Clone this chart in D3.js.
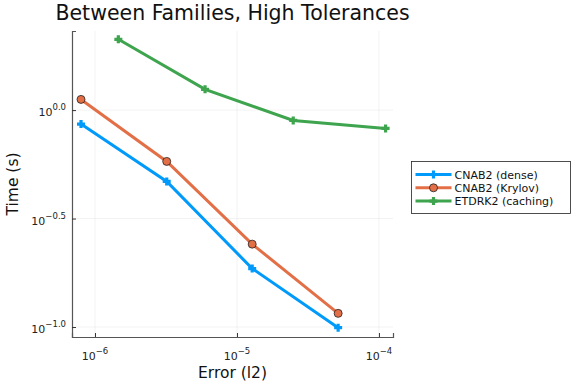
<!DOCTYPE html>
<html lang="en">
<head>
<meta charset="UTF-8">
<title>Between Families, High Tolerances</title>
<script src="https://d3js.org/d3.v7.min.js"></script>
<style>
  body { margin: 0; background: white; }
  svg { display: block; font-family: "DejaVu Sans", sans-serif; }
  .grid line { stroke: #000; stroke-opacity: 0.1; stroke-width: 0.5px; }
</style>
</head>
<body>
<svg id="chart" width="576" height="384"></svg>
<script>
// values
const denseErr = [7.97e-7, 3.2e-6, 1.28e-5, 5.16e-5];
const denseTime = [0.862, 0.469, 0.186, 0.0993];
const krylovErr = [7.97e-7, 3.2e-6, 1.28e-5, 5.16e-5];
const krylovTime = [1.12, 0.580, 0.241, 0.1156];
const etdErr = [1.46e-6, 5.96e-6, 2.49e-5, 1.114e-4];
const etdTime = [2.12, 1.246, 0.896, 0.823];

const xTickExp = ["-6", "-5", "-4"];
const yTickExp = ["0.0", "-0.5", "-1.0"];

const series = [
  {name: "CNAB2 (dense)", color: "#009AFA", marker: "cross", x: denseErr, y: denseTime},
  {name: "CNAB2 (Krylov)", color: "#E36F47", marker: "circle", x: krylovErr, y: krylovTime},
  {name: "ETDRK2 (caching)", color: "#3EA44E", marker: "cross", x: etdErr, y: etdTime}
];

const svg = d3.select("#chart");
const margin = {left: 72, right: 183, top: 31, bottom: 47};
const W = 576 - margin.left - margin.right;
const H = 384 - margin.top - margin.bottom;
const g = svg.append("g").attr("transform", `translate(${margin.left},${margin.top})`);

const x = d3.scaleLog().domain([Math.pow(10, -6.162), Math.pow(10, -3.901)]).range([0, W]);
const y = d3.scaleLog().domain([Math.pow(10, -1.046), Math.pow(10, 0.3646)]).range([H, 0]);

const xTicks = xTickExp.map(e => Math.pow(10, +e));
const yTicks = yTickExp.map(e => Math.pow(10, +e));

// grid
g.append("g").attr("class", "grid")
  .selectAll("line").data(xTicks).enter().append("line")
  .attr("x1", d => x(d)).attr("x2", d => x(d)).attr("y1", 0).attr("y2", H);
g.append("g").attr("class", "grid")
  .selectAll("line").data(yTicks).enter().append("line")
  .attr("y1", d => y(d)).attr("y2", d => y(d)).attr("x1", 0).attr("x2", W);

// axes
const xAxis = g.append("g").attr("transform", `translate(0,${H})`)
  .call(d3.axisBottom(x).tickValues(xTicks).tickSize(-4).tickFormat(""));
const yAxis = g.append("g")
  .call(d3.axisLeft(y).tickValues(yTicks).tickSize(-4).tickFormat(""));
[xAxis, yAxis].forEach(a => {
  a.select(".domain").attr("stroke", "#555").attr("stroke-width", 1.2);
  a.selectAll(".tick line").attr("stroke", "#333");
});

// tick labels with superscripts
g.append("g").selectAll("text").data(xTickExp).enter().append("text")
  .attr("x", d => x(Math.pow(10, +d)))
  .attr("y", H + 23)
  .attr("text-anchor", "middle")
  .attr("font-size", 11)
  .attr("fill", "#222")
  .each(function(d) {
    const t = d3.select(this);
    t.append("tspan").text("10");
    t.append("tspan").attr("dy", -6).attr("font-size", 8.5).text("\u2212" + d.slice(1));
  });

g.append("g").selectAll("text").data(yTickExp).enter().append("text")
  .attr("x", -6)
  .attr("y", d => y(Math.pow(10, +d)) + 6)
  .attr("text-anchor", "end")
  .attr("font-size", 11)
  .attr("fill", "#222")
  .each(function(d) {
    const t = d3.select(this);
    t.append("tspan").text("10");
    t.append("tspan").attr("dy", -6).attr("font-size", 8.5).text(d.replace("-", "\u2212"));
  });

// axis titles
svg.append("text").attr("x", margin.left + W / 2).attr("y", 378)
  .attr("text-anchor", "middle").attr("font-size", 15.5).attr("fill", "#111").text("Error (l2)");
svg.append("text").attr("transform", `translate(18,${margin.top + H / 2}) rotate(-90)`)
  .attr("text-anchor", "middle").attr("font-size", 15.5).attr("fill", "#111").text("Time (s)");
svg.append("text").attr("x", margin.left + W / 2).attr("y", 19.5)
  .attr("text-anchor", "middle").attr("font-size", 20.5).attr("fill", "#111")
  .text("Between Families, High Tolerances");

function drawMarker(sel, s, size) {
  if (s.marker === "circle") {
    sel.append("circle").attr("r", size).attr("fill", s.color)
      .attr("stroke", "#222").attr("stroke-width", 0.8);
  } else {
    sel.append("path").attr("d", `M${-size},0H${size}M0,${-size}V${size}`)
      .attr("stroke", s.color).attr("stroke-width", 3.2);
  }
}

const line = d3.line().x(d => x(d[0])).y(d => y(d[1]));
series.forEach(s => {
  const pts = s.x.map((v, i) => [v, s.y[i]]);
  g.append("path").datum(pts)
    .attr("fill", "none").attr("stroke", s.color).attr("stroke-width", 3)
    .attr("d", line);
  g.append("g").selectAll("g").data(pts).enter().append("g")
    .attr("transform", d => `translate(${x(d[0])},${y(d[1])})`)
    .each(function() { drawMarker(d3.select(this), s, 4); });
});

// legend
const lg = svg.append("g").attr("transform", "translate(411.5,161.5)");
lg.append("rect").attr("width", 159).attr("height", 52)
  .attr("fill", "white").attr("stroke", "#222").attr("stroke-width", 0.8);
series.forEach((s, i) => {
  const row = lg.append("g").attr("transform", `translate(0,${13 + i * 13.3})`);
  row.append("line").attr("x1", 4).attr("x2", 40).attr("stroke", s.color).attr("stroke-width", 3);
  drawMarker(row.append("g").attr("transform", "translate(22,0)"), s, 4);
  row.append("text").attr("x", 43).attr("y", 4).attr("font-size", 11).attr("fill", "#111").text(s.name);
});
</script>
</body>
</html>
